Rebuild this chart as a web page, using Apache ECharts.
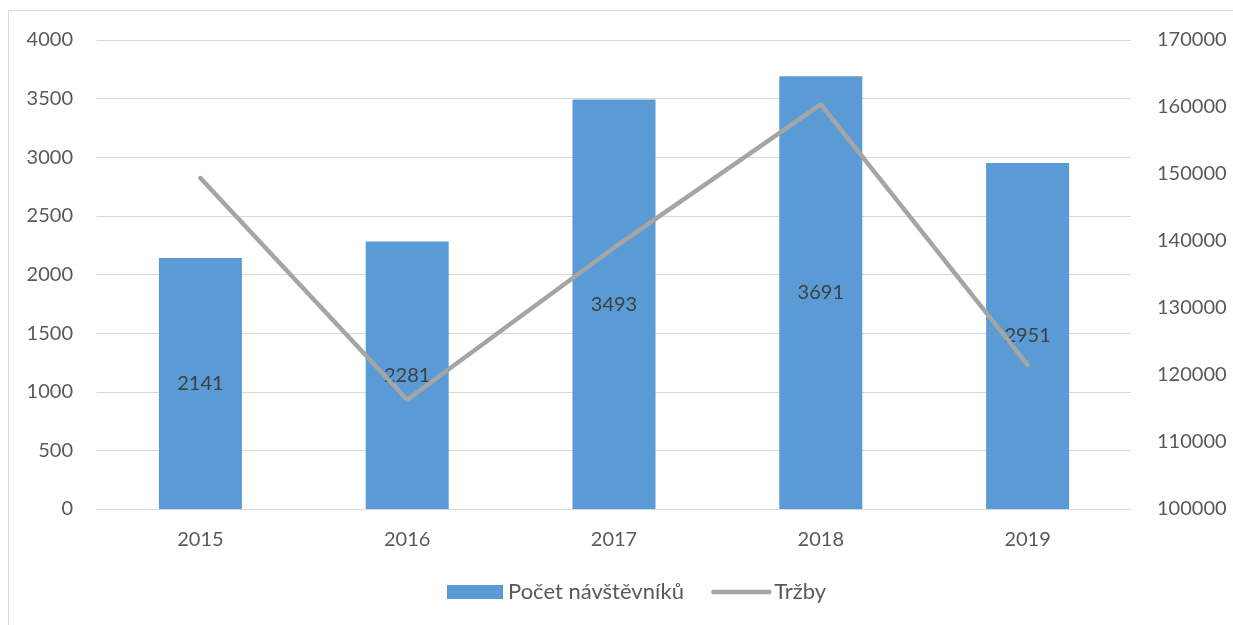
<!DOCTYPE html>
<html><head><meta charset="utf-8">
<script src="https://cdn.jsdelivr.net/npm/echarts@6/dist/echarts.min.js"></script>
<style>html,body{margin:0;padding:0;background:#fff}#c{width:1233px;height:625px}</style>
</head><body><div id="c"></div>
<script>
const categories = ['2015','2016','2017','2018','2019'];
const visitors = [2141, 2281, 3493, 3691, 2951];
const revenue = [149400, 116300, 139000, 160400, 121500];
const seriesNames = ['Počet návštěvníků', 'Tržby'];

const font = 'Lato, "Open Sans", sans-serif';
const fs = 20;
const chart = echarts.init(document.getElementById('c'));
chart.setOption({
  animation: false,
  textStyle: { fontFamily: font },
  graphic: [{
    type: 'rect', shape: { x: 8.5, y: 10.5, width: 1300, height: 700 },
    style: { fill: 'none', stroke: '#d9d9d9', lineWidth: 1 }, silent: true, z: -1
  }],
  grid: { left: 97, right: 102, top: 40, bottom: 116 },
  legend: {
    bottom: 17, left: 442, itemGap: 27,
    textStyle: { fontFamily: font, fontSize: 22, color: '#595959' },
    data: [
      { name: seriesNames[0], icon: 'rect', itemWidth: 52, itemHeight: 13 },
      { name: seriesNames[1], itemStyle: { opacity: 0 }, lineStyle: { width: 4.5, color: '#a5a5a5', cap: 'round' } }
    ],
    itemWidth: 56, itemHeight: 14
  },
  xAxis: {
    type: 'category', data: categories,
    axisLine: { lineStyle: { color: '#d9d9d9' } },
    axisTick: { show: false },
    axisLabel: { fontFamily: font, fontSize: fs, color: '#595959', margin: 21 }
  },
  yAxis: [{
    type: 'value', min: 0, max: 4000, interval: 500,
    axisLine: { show: false }, axisTick: { show: false },
    splitLine: { lineStyle: { color: '#d9d9d9' } },
    axisLabel: { fontFamily: font, fontSize: fs, color: '#595959', margin: 24, formatter: v => String(v) }
  }, {
    type: 'value', min: 100000, max: 170000, interval: 10000,
    axisLine: { show: false }, axisTick: { show: false },
    splitLine: { show: false },
    axisLabel: { fontFamily: font, fontSize: fs, color: '#595959', margin: 26, formatter: v => String(v) }
  }],
  series: [{
    name: seriesNames[0], type: 'bar', data: visitors, barWidth: 83,
    itemStyle: { color: '#5b9bd5' },
    label: { show: true, position: 'inside', fontFamily: font, fontSize: fs, color: '#404040' }
  }, {
    name: seriesNames[1], type: 'line', yAxisIndex: 1, data: revenue,
    showSymbol: false, symbol: 'none',
    lineStyle: { color: '#a5a5a5', width: 4.5, cap: 'round' },
    itemStyle: { color: '#a5a5a5' }
  }]
});
</script></body></html>
